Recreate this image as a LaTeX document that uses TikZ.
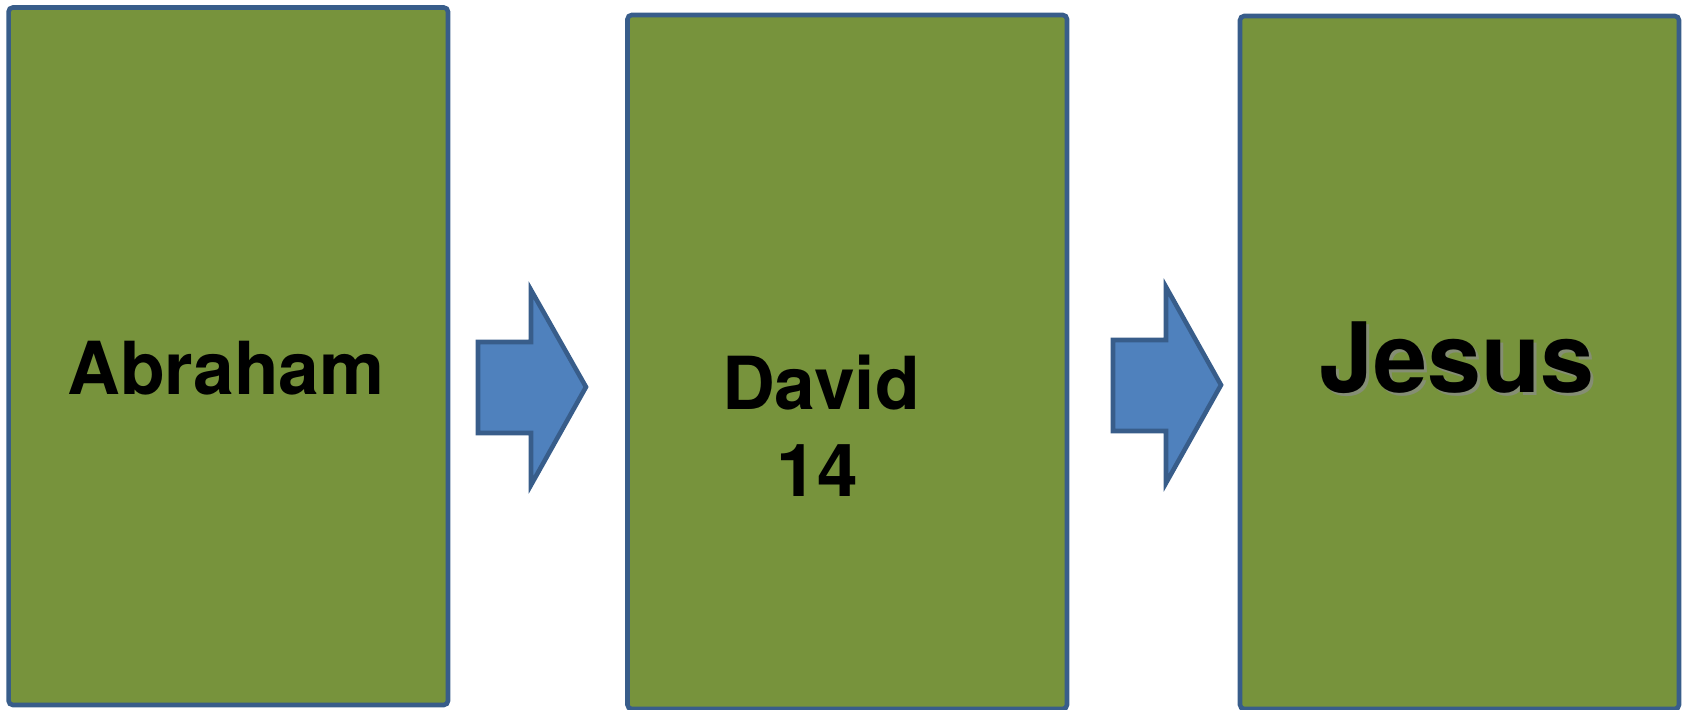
\documentclass[tikz,border=0pt]{standalone}
\usepackage{fontspec}
\setmainfont{TeX Gyre Heros}
\definecolor{boxgreen}{HTML}{77933C}
\definecolor{boxblue}{HTML}{385D8A}
\definecolor{arrowblue}{HTML}{4F81BD}
\begin{document}
\begin{tikzpicture}[x=0.01cm,y=-0.01cm,
  panel/.style={draw=boxblue,fill=boxgreen,line width=1.3pt,rounded corners=1.2pt},
  blockarrow/.style={draw=boxblue,fill=arrowblue,line width=1.3pt},
  label/.style={font=\bfseries\fontsize{20.8pt}{24.8pt}\selectfont,text=black,align=center,inner sep=0pt,anchor=base},
  biglabel/.style={font=\bfseries\fontsize{27.6pt}{32pt}\selectfont,inner sep=0pt,anchor=base}]
\useasboundingbox (0,0) rectangle (1682,710);
\draw[panel] (8.6,7.5) rectangle (448,705);
\draw[panel] (627.5,15) rectangle (1067,709);
\draw[panel] (1240,16) rectangle (1679,709);
\draw[blockarrow] (478,342) -- (531,342) -- (531,290) -- (586,387) -- (531,485) -- (531,433) -- (478,433) -- cycle;
\draw[blockarrow] (1113,340) -- (1166,340) -- (1166,287) -- (1221,385) -- (1166,483) -- (1166,431) -- (1113,431) -- cycle;
\node[label] (abraham) at (226,395) {Abraham};
\node[label] (david) at (821,410) {David};
\node[label] (fourteen) at (817,497) {14};
\node[biglabel,text=black!45,opacity=0.7] (jesusshadow) at (1460,396) {Jesus};
\node[biglabel,text=black] (jesus) at (1457,393) {Jesus};
\end{tikzpicture}
\end{document}
